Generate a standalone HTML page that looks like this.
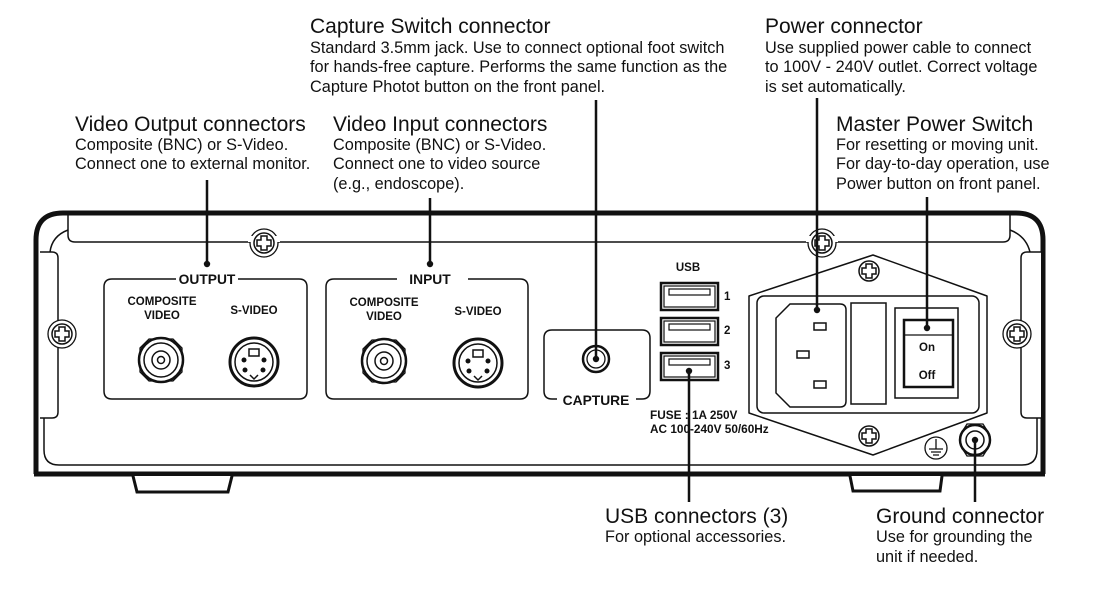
<!DOCTYPE html>
<html><head><meta charset="utf-8"><style>
html,body{margin:0;padding:0;background:#fff;}
svg{display:block;}
text{font-family:"Liberation Sans",Arial,sans-serif;fill:#111;}
.t{font-size:21px;}
.b{font-size:16.3px;}
.s{font-size:11.5px;font-weight:bold;}
.m{font-size:13.8px;font-weight:bold;}
.f{font-size:11.8px;font-weight:bold;}
</style></head><body>
<svg width="1112" height="608" viewBox="0 0 1112 608" xmlns="http://www.w3.org/2000/svg">
<defs>
<g id="scr"><circle r="10" fill="#fff" stroke="#111" stroke-width="1.5"/><path d="M-3,-7h6v4h4v6h-4v4h-6v-4h-4v-6h4z" fill="#fff" stroke="#111" stroke-width="1.5"/></g>
<g id="bnc"><polygon points="-21,-12 -12,-21 12,-21 21,-12 21,12 12,21 -12,21 -21,12" fill="#fff" stroke="#111" stroke-width="1.3"/><circle r="22" fill="#fff" stroke="#111" stroke-width="2.5"/><circle r="17" fill="none" stroke="#111" stroke-width="1.5"/><circle r="9" fill="none" stroke="#111" stroke-width="1.5"/><circle r="3.5" fill="none" stroke="#111" stroke-width="1.5"/></g>
<g id="sv"><circle r="24" fill="#fff" stroke="#111" stroke-width="3"/><circle r="19" fill="none" stroke="#111" stroke-width="1.5"/><rect x="-5" y="-13" width="10" height="7" fill="#fff" stroke="#111" stroke-width="1.5"/><circle cx="-10" cy="-2" r="2.5" fill="#111"/><circle cx="10" cy="-2" r="2.5" fill="#111"/><circle cx="-9" cy="8" r="2.5" fill="#111"/><circle cx="9" cy="8" r="2.5" fill="#111"/><path d="M-4,13 l4,4 l4,-4" fill="none" stroke="#111" stroke-width="1.5"/></g>
<g id="usb"><rect x="0" y="0" width="57" height="27" fill="#fff" stroke="#111" stroke-width="2.5"/><rect x="3" y="3" width="51" height="21" fill="none" stroke="#111" stroke-width="1.2"/><rect x="8" y="6" width="41" height="6" fill="none" stroke="#111" stroke-width="1.2"/></g>
</defs>

<!-- chassis -->
<path d="M36,474 V240 Q36,213 63,213 H1016 Q1043,213 1043,240 V474" fill="none" stroke="#111" stroke-width="5"/>
<line x1="34" y1="474" x2="1045" y2="474" stroke="#111" stroke-width="5"/>
<path d="M44,255 V450 Q44,465 59,465 H1022 Q1037,465 1037,450 V255" fill="none" stroke="#111" stroke-width="1.5"/>
<path d="M68,215 V235 Q68,242 75,242 H1003 Q1010,242 1010,235 V215" fill="none" stroke="#111" stroke-width="1.5"/>
<path d="M68,230 Q52,236 50,252" fill="none" stroke="#111" stroke-width="1.5"/>
<path d="M1010,230 Q1026,236 1030,252" fill="none" stroke="#111" stroke-width="1.5"/>
<!-- side brackets -->
<path d="M40,252 H52 Q58,252 58,258 V412 Q58,418 52,418 H40" fill="#fff" stroke="#111" stroke-width="1.5"/>
<path d="M1041,252 H1027 Q1021,252 1021,258 V412 Q1021,418 1027,418 H1041" fill="#fff" stroke="#111" stroke-width="1.5"/>
<circle cx="62" cy="334" r="14" fill="#fff" stroke="#111" stroke-width="1.3"/><use href="#scr" x="62" y="334"/>
<circle cx="1017" cy="334" r="14" fill="#fff" stroke="#111" stroke-width="1.3"/><use href="#scr" x="1017" y="334"/>
<circle cx="264" cy="243" r="14" fill="#fff" stroke="#111" stroke-width="1.3"/><rect x="248" y="236" width="32" height="6" fill="#fff"/><use href="#scr" x="264" y="243"/>
<circle cx="822" cy="243" r="14" fill="#fff" stroke="#111" stroke-width="1.3"/><rect x="806" y="236" width="32" height="6" fill="#fff"/><use href="#scr" x="822" y="243"/>
<!-- feet -->
<path d="M133,476 L137,492 H228 L232,476" fill="#fff" stroke="#111" stroke-width="3"/>
<path d="M850,476 L853,491 H940 L942,476" fill="#fff" stroke="#111" stroke-width="3"/>

<!-- output -->
<path d="M176,279 H112 Q104,279 104,287 V391 Q104,399 112,399 H299 Q307,399 307,391 V287 Q307,279 299,279 H238" fill="none" stroke="#111" stroke-width="1.5"/>
<text x="207" y="284" class="m" text-anchor="middle">OUTPUT</text>
<text x="162" y="305" class="s" text-anchor="middle">COMPOSITE</text>
<text x="162" y="319" class="s" text-anchor="middle">VIDEO</text>
<text x="254" y="314" class="s" text-anchor="middle">S-VIDEO</text>
<use href="#bnc" x="161" y="360"/><use href="#sv" x="254" y="362"/>
<!-- input -->
<path d="M397,279 H334 Q326,279 326,287 V391 Q326,399 334,399 H520 Q528,399 528,391 V287 Q528,279 520,279 H468" fill="none" stroke="#111" stroke-width="1.5"/>
<text x="430" y="284" class="m" text-anchor="middle">INPUT</text>
<text x="384" y="306" class="s" text-anchor="middle">COMPOSITE</text>
<text x="384" y="320" class="s" text-anchor="middle">VIDEO</text>
<text x="478" y="315" class="s" text-anchor="middle">S-VIDEO</text>
<use href="#bnc" x="384" y="361"/><use href="#sv" x="478" y="363"/>
<!-- capture -->
<path d="M557,399 H552 Q544,399 544,391 V338 Q544,330 552,330 H642 Q650,330 650,338 V391 Q650,399 642,399 H636" fill="none" stroke="#111" stroke-width="1.5"/>
<text x="596" y="405" class="m" text-anchor="middle">CAPTURE</text>
<circle cx="596" cy="359" r="13" fill="#fff" stroke="#111" stroke-width="2.5"/><circle cx="596" cy="359" r="9" fill="none" stroke="#111" stroke-width="1.3"/>
<!-- usb -->
<text x="688" y="271" class="s" text-anchor="middle">USB</text>
<use href="#usb" x="661" y="283"/><use href="#usb" x="661" y="318"/><use href="#usb" x="661" y="353"/>
<text x="724" y="300" class="s">1</text><text x="724" y="334" class="s">2</text><text x="724" y="369" class="s">3</text>
<text x="650" y="419" class="f">FUSE : 1A  250V</text>
<text x="650" y="433" class="f">AC 100-240V  50/60Hz</text>
<!-- power plate -->
<polygon points="749,296 873,255 987,296 987,413 873,455 749,413" fill="#fff" stroke="#111" stroke-width="1.5" stroke-linejoin="round"/>
<use href="#scr" x="869" y="271"/><use href="#scr" x="869" y="436"/>
<rect x="757" y="296" width="222" height="117" rx="7" fill="#fff" stroke="#111" stroke-width="1.5"/>
<path d="M790,304 H840 Q846,304 846,310 V401 Q846,407 840,407 H790 L776,393 V318 Z" fill="#fff" stroke="#111" stroke-width="1.5"/>
<rect x="814" y="323" width="12" height="7" fill="#fff" stroke="#111" stroke-width="1.5"/>
<rect x="797" y="351" width="12" height="7" fill="#fff" stroke="#111" stroke-width="1.5"/>
<rect x="814" y="381" width="12" height="7" fill="#fff" stroke="#111" stroke-width="1.5"/>
<rect x="851" y="303" width="35" height="101" fill="#fff" stroke="#111" stroke-width="1.5"/>
<rect x="895" y="308" width="63" height="90" fill="#fff" stroke="#111" stroke-width="1.5"/>
<rect x="904" y="320" width="49" height="67" fill="#fff" stroke="#111" stroke-width="2.5"/>
<line x1="904" y1="335" x2="953" y2="335" stroke="#111" stroke-width="1.3"/>
<text x="927" y="351" class="s" text-anchor="middle">On</text>
<text x="927" y="379" class="s" text-anchor="middle">Off</text>
<!-- ground -->
<circle cx="936" cy="448" r="11" fill="#fff" stroke="#111" stroke-width="1.3"/>
<path d="M936,439 V449 M929,449 H943 M931,452 H941 M933,455 H939" stroke="#111" stroke-width="1.3"/>
<polygon points="962,432 967,424 983,424 988,432 988,448 983,456 967,456 962,448" fill="#fff" stroke="#111" stroke-width="1.3"/>
<circle cx="975" cy="440" r="15" fill="#fff" stroke="#111" stroke-width="2.5"/><circle cx="975" cy="440" r="9" fill="none" stroke="#111" stroke-width="1.5"/>

<!-- leaders -->
<g stroke="#111" stroke-width="2.5">
<line x1="207" y1="180" x2="207" y2="264"/>
<line x1="430" y1="198" x2="430" y2="264"/>
<line x1="596" y1="100" x2="596" y2="359"/>
<line x1="817" y1="98" x2="817" y2="310"/>
<line x1="927" y1="197" x2="927" y2="328"/>
<line x1="689" y1="371" x2="689" y2="502"/>
<line x1="975" y1="440" x2="975" y2="502"/>
</g>
<g fill="#111">
<circle cx="207" cy="264" r="3.2"/><circle cx="430" cy="264" r="3.2"/><circle cx="596" cy="359" r="3.2"/>
<circle cx="817" cy="310" r="3.2"/><circle cx="927" cy="328" r="3.2"/><circle cx="689" cy="371" r="3.2"/><circle cx="975" cy="440" r="3.2"/>
</g>

<!-- labels -->
<text x="310" y="33" class="t">Capture Switch connector</text>
<text x="310" y="53" class="b">Standard 3.5mm jack. Use to connect optional foot switch</text>
<text x="310" y="72" class="b">for hands-free capture. Performs the same function as the</text>
<text x="310" y="92" class="b">Capture Photot button on the front panel.</text>

<text x="765" y="33" class="t">Power connector</text>
<text x="765" y="53" class="b">Use supplied power cable to connect</text>
<text x="765" y="72" class="b">to 100V - 240V outlet. Correct voltage</text>
<text x="765" y="92" class="b">is set automatically.</text>

<text x="75" y="131" class="t">Video Output connectors</text>
<text x="75" y="150" class="b">Composite (BNC) or S-Video.</text>
<text x="75" y="169" class="b">Connect one to external monitor.</text>

<text x="333" y="131" class="t">Video Input connectors</text>
<text x="333" y="150" class="b">Composite (BNC) or S-Video.</text>
<text x="333" y="169" class="b">Connect one to video source</text>
<text x="333" y="189" class="b">(e.g., endoscope).</text>

<text x="836" y="131" class="t">Master Power Switch</text>
<text x="836" y="150" class="b">For resetting or moving unit.</text>
<text x="836" y="169" class="b">For day-to-day operation, use</text>
<text x="836" y="189" class="b">Power button on front panel.</text>

<text x="605" y="523" class="t">USB connectors (3)</text>
<text x="605" y="542" class="b">For optional accessories.</text>

<text x="876" y="523" class="t">Ground connector</text>
<text x="876" y="542" class="b">Use for grounding the</text>
<text x="876" y="562" class="b">unit if needed.</text>
</svg>
</body></html>
